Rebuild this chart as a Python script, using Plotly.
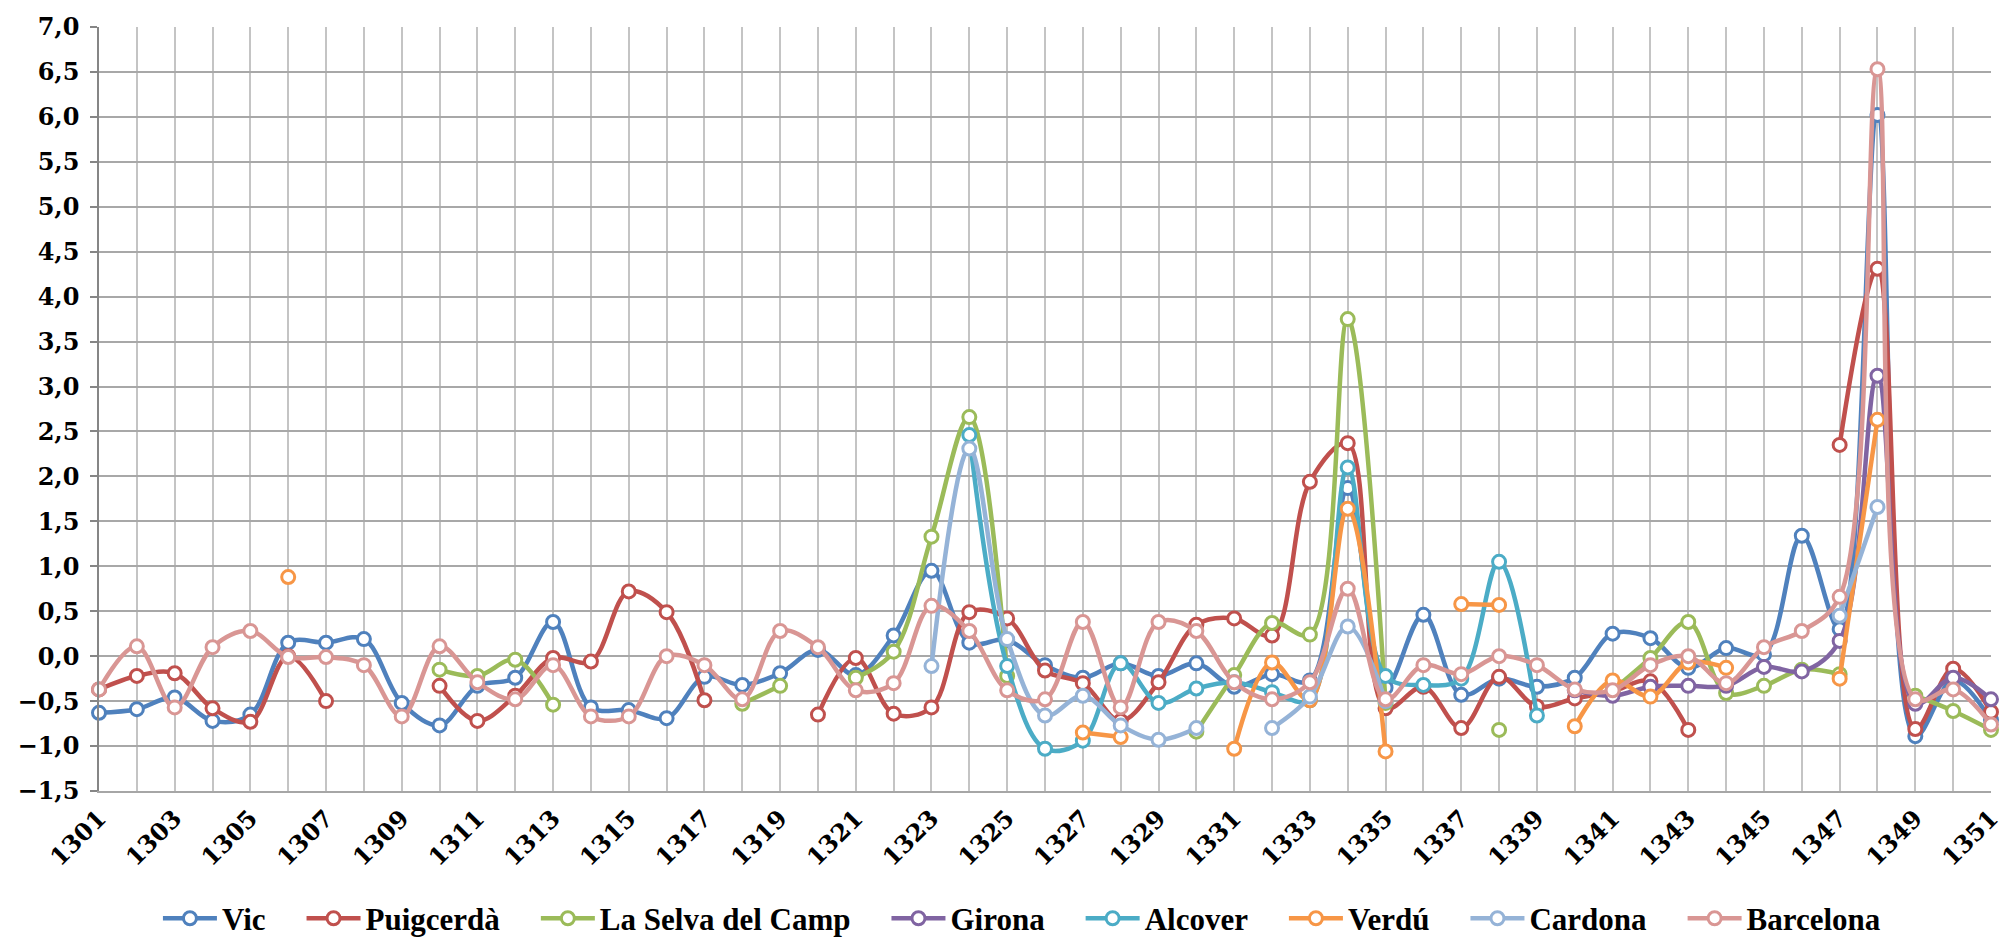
import plotly.graph_objects as go

years = list(range(1301, 1352))
N = None

vic = [-0.63, -0.59, -0.46, -0.72, -0.65, 0.15, 0.15, 0.19, -0.52, -0.77,
       -0.33, -0.24, 0.38, -0.57, -0.60, -0.69, -0.23, -0.32, -0.19, 0.07,
       -0.21, 0.23, 0.95, 0.15, 0.18, -0.10, -0.24, -0.08, -0.22, -0.08,
       -0.34, -0.20, -0.27, 1.87, -0.35, 0.46, -0.43, -0.25, -0.34, -0.24,
       0.25, 0.20, -0.13, 0.09, 0.02, 1.34, 0.30, 6.02, -0.89, -0.27, -0.71]

puigcerda = [-0.37, -0.22, -0.19, -0.58, -0.73, 0.00, -0.50, N, N, -0.33,
             -0.72, -0.44, -0.02, -0.06, 0.72, 0.49, -0.49, N, N, -0.65,
             -0.02, -0.64, -0.57, 0.49, 0.42, -0.16, -0.30, -0.72, -0.29, 0.35,
             0.42, 0.23, 1.94, 2.37, -0.58, -0.34, -0.80, -0.23, -0.56, -0.47,
             -0.39, -0.28, -0.82, N, N, N, 2.35, 4.31, -0.81, -0.14, -0.62]

selva = [N, N, N, N, N, N, N, N, N, -0.15,
         -0.22, -0.04, -0.54, N, N, N, N, -0.53, -0.33, N,
         -0.24, 0.05, 1.33, 2.66, -0.22, N, N, N, N, -0.84,
         -0.21, 0.37, 0.24, 3.75, -0.52, N, N, -0.82, N, N,
         -0.38, -0.02, 0.38, -0.41, -0.33, -0.15, -0.20, N, -0.44, -0.61, -0.82]

girona = [N] * 39 + [-0.38, -0.44, -0.34, -0.33, -0.33, -0.12, -0.17, 0.17,
                     3.12, -0.53, -0.24, -0.48]

alcover = [N] * 23 + [2.46, -0.11, -1.03, -0.94, -0.08, -0.52, -0.36, -0.29,
                      -0.40, -0.49, 2.10, -0.22, -0.32, -0.25, 1.05, -0.66] + [N] * 12

verdu = [N, N, N, N, N, 0.88, N, N, N, N,
         N, N, N, N, N, N, N, N, N, N,
         N, N, N, N, N, N, -0.85, -0.90, N, N,
         -1.03, -0.07, -0.49, 1.64, -1.06, N, 0.58, 0.57, N, -0.78,
         -0.27, -0.45, -0.07, -0.13, N, N, -0.25, 2.63, N, N, N]

cardona = [N] * 22 + [-0.11, 2.31, 0.19, -0.66, -0.44, -0.77, -0.93, -0.80, N,
                      -0.80, -0.45, 0.33, -0.50] + [N] * 11 + [0.45, 1.66, N, N, N]

barcelona = [-0.37, 0.11, -0.57, 0.10, 0.28, -0.01, -0.01, -0.10, -0.67, 0.11,
             -0.29, -0.48, -0.10, -0.67, -0.67, 0.00, -0.10, -0.48, 0.28, 0.10,
             -0.38, -0.30, 0.56, 0.28, -0.38, -0.48, 0.38, -0.57, 0.38, 0.28,
             -0.29, -0.48, -0.29, 0.75, -0.48, -0.10, -0.20, 0.00, -0.10, -0.37,
             -0.38, -0.10, 0.00, -0.30, 0.10, 0.28, 0.66, 6.53, -0.48, -0.37, -0.76]

names = ["Vic", "Puigcerdà", "La Selva del Camp", "Girona", "Alcover",
         "Verdú", "Cardona", "Barcelona"]
values = [vic, puigcerda, selva, girona, alcover, verdu, cardona, barcelona]
colors = ["#4F81BD", "#C0504D", "#9BBB59", "#8064A2", "#4BACC6",
          "#F79646", "#95B3D7", "#D99694"]

PAD = "\u00a0" * 4  # extra spacing between legend entries

fig = go.Figure()
for name, vals, col in zip(names, values, colors):
    fig.add_trace(go.Scatter(
        x=years, y=vals, name=name + PAD, mode="lines+markers",
        line=dict(color=col, width=4.5, shape="spline", smoothing=1.0),
        marker=dict(symbol="circle", size=13, color="white",
                    line=dict(color=col, width=3)),
        connectgaps=False, cliponaxis=False,
    ))

axis_font = dict(family="DejaVu Serif", size=24, color="black", weight="bold")

fig.update_layout(
    width=2009, height=950,
    margin=dict(l=91, r=26, t=19, b=151),
    paper_bgcolor="white", plot_bgcolor="white",
    separators=",.",
    showlegend=True,
    legend=dict(orientation="h", x=0.496, xanchor="center", y=-0.167, yanchor="middle",
                font=dict(family="Times New Roman", size=31, color="black", weight="bold"),
                itemwidth=54, bgcolor="rgba(0,0,0,0)"),
    xaxis=dict(range=[1301, 1351], tick0=1301, dtick=2, tickangle=-45,
               showgrid=True, gridcolor="#C4C4C4", gridwidth=1.5,
               minor=dict(dtick=1, showgrid=True, gridcolor="#C4C4C4", gridwidth=1.5),
               zeroline=False, showline=True, linecolor="#A6A6A6", linewidth=1.5,
               tickfont=axis_font, ticks="", ticklabelstandoff=2, automargin=False),
    yaxis=dict(range=[-1.5, 7.0], dtick=0.5, tick0=0, tickformat=".1f",
               showgrid=True, gridcolor="#A8A8A8", gridwidth=1.5,
               zeroline=False, showline=True, linecolor="#868686", linewidth=1.5,
               ticks="outside", ticklen=7, tickcolor="#868686", tickwidth=1.5,
               tickfont=axis_font, ticklabelstandoff=6, automargin=False),
)

fig.write_html("out.html")
